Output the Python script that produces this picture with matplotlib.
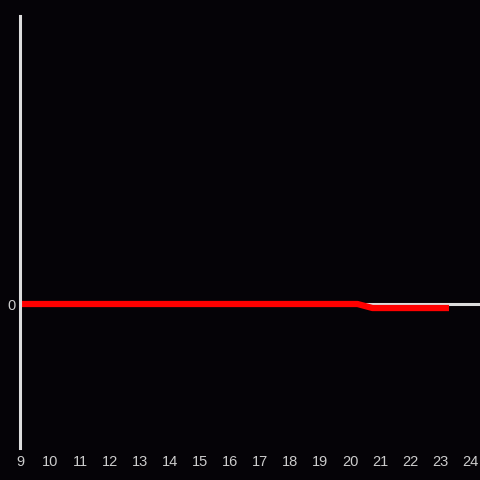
import matplotlib.pyplot as plt

# time of day (hours) and value
hours = [9, 20.25, 20.75, 23.3]
values = [0, 0, -0.028, -0.028]
x_ticks = list(range(9, 25))

bg = '#050307'
axis_col = '#dddddd'
text_col = '#cccccc'

fig = plt.figure(figsize=(4.8, 4.8), dpi=100, facecolor=bg)
ax = fig.add_axes([20 / 480, 32 / 480, 460 / 480, 432 / 480])
ax.set_facecolor(bg)

ax.set_xlim(9, 9 + 460 / 30)
ax.set_ylim(-1, 2)

# zero line
ax.axhline(0, color=axis_col, lw=2.2, zorder=1)
ax.plot(hours, values, color='#ff0000', lw=4.5, solid_capstyle='butt', zorder=2)

for s in ['top', 'right', 'bottom']:
    ax.spines[s].set_visible(False)
ax.spines['left'].set_color(axis_col)
ax.spines['left'].set_linewidth(2.2)

ax.set_xticks(x_ticks)
ax.set_xticklabels([str(t) for t in x_ticks])
ax.set_yticks([0])
ax.set_yticklabels(['0'])
ax.tick_params(axis='both', length=0, colors=text_col, labelsize=10.5,
               labelfontfamily='Liberation Sans')
ax.tick_params(axis='x', pad=5)
ax.tick_params(axis='y', pad=3)

fig.savefig('out.png', dpi=100, facecolor=bg)
